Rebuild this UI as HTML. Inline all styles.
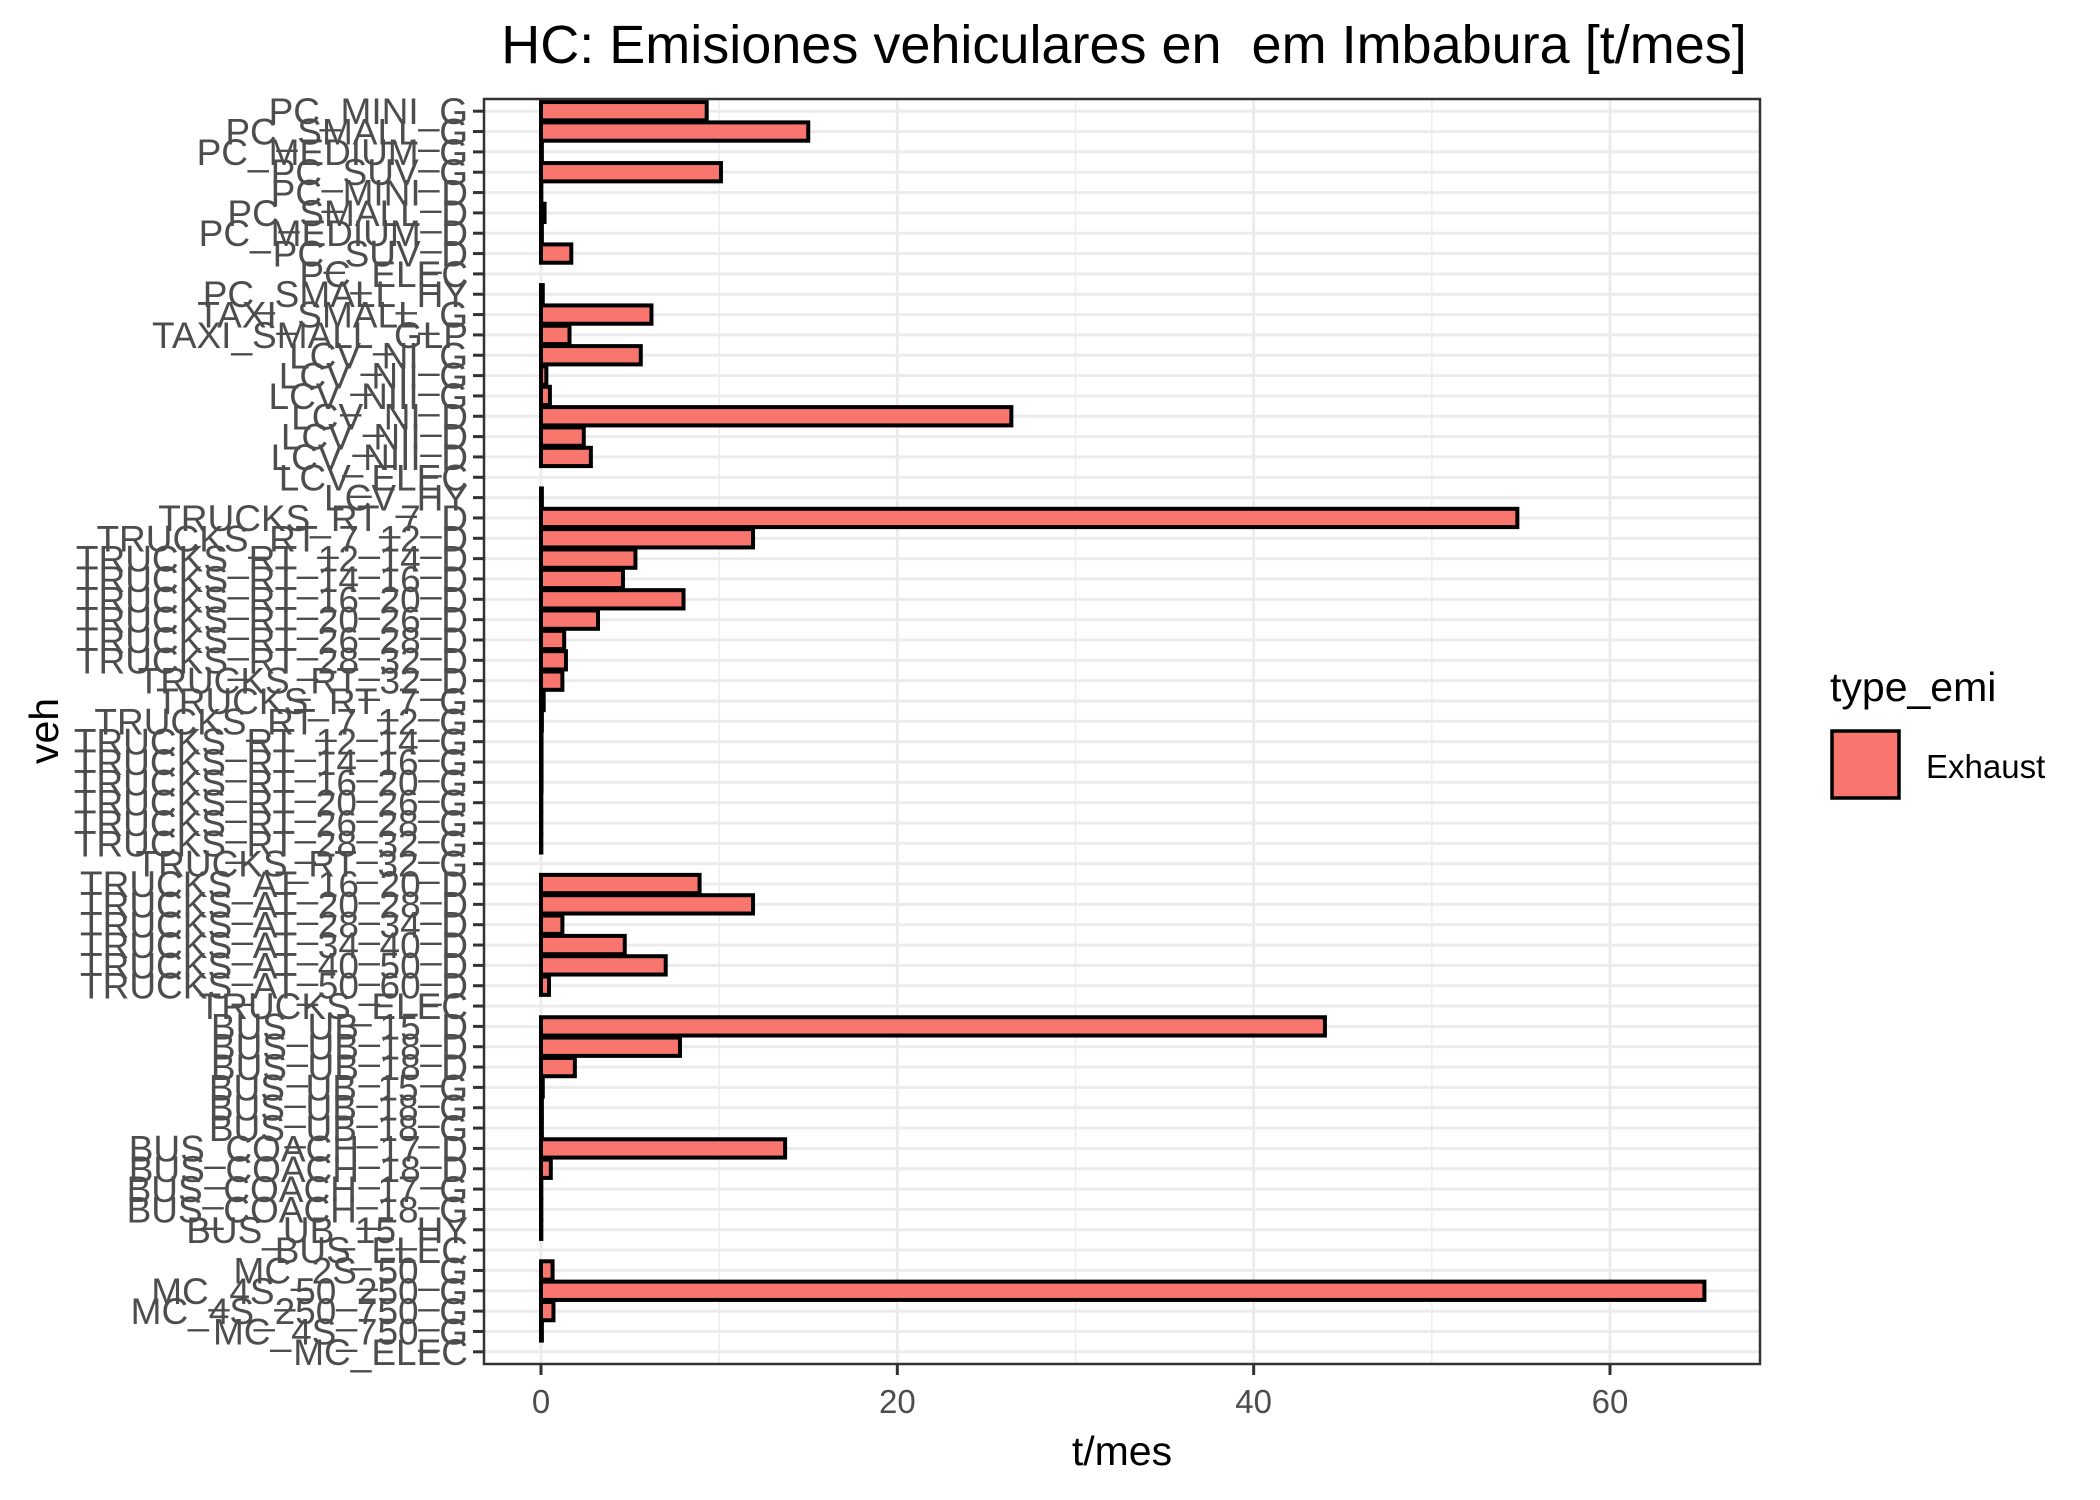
<!DOCTYPE html>
<html><head><meta charset="utf-8"><style>
html,body{margin:0;padding:0;background:#fff;}
svg{display:block;font-family:"Liberation Sans",sans-serif;}
</style></head><body>
<svg id="chart" width="2100" height="1500" viewBox="0 0 2100 1500" xmlns="http://www.w3.org/2000/svg">
<rect width="2100" height="1500" fill="#fff"/>
<text x="1124" y="63" font-size="54" text-anchor="middle" fill="#000" style="white-space:pre" xml:space="preserve">HC: Emisiones vehiculares en  em Imbabura [t/mes]</text>
<g id="panel"></g>
<text x="1122" y="1465" font-size="41" text-anchor="middle" fill="#000">t/mes</text>
<text transform="translate(58,731) rotate(-90)" font-size="41" text-anchor="middle" fill="#000">veh</text>
<g>
<text x="1830" y="701" font-size="41" fill="#000">type_emi</text>
<rect x="1832" y="731" width="67" height="67" fill="#F8766D" stroke="#000" stroke-width="3.5"/>
<text x="1926" y="778" font-size="33" fill="#000">Exhaust</text>
</g>
</svg>
<script>
const categories = ["PC_MINI_G","PC_SMALL_G","PC_MEDIUM_G","PC_SUV_G","PC_MINI_D","PC_SMALL_D","PC_MEDIUM_D","PC_SUV_D","PC_ELEC","PC_SMALL_HY","TAXI_SMALL_G","TAXI_SMALL_GLP","LCV_NI_G","LCV_NII_G","LCV_NIII_G","LCV_NI_D","LCV_NII_D","LCV_NIII_D","LCV_ELEC","LCV_HY","TRUCKS_RT_7_D","TRUCKS_RT_7_12_D","TRUCKS_RT_12_14_D","TRUCKS_RT_14_16_D","TRUCKS_RT_16_20_D","TRUCKS_RT_20_26_D","TRUCKS_RT_26_28_D","TRUCKS_RT_28_32_D","TRUCKS_RT_32_D","TRUCKS_RT_7_G","TRUCKS_RT_7_12_G","TRUCKS_RT_12_14_G","TRUCKS_RT_14_16_G","TRUCKS_RT_16_20_G","TRUCKS_RT_20_26_G","TRUCKS_RT_26_28_G","TRUCKS_RT_28_32_G","TRUCKS_RT_32_G","TRUCKS_AT_16_20_D","TRUCKS_AT_20_28_D","TRUCKS_AT_28_34_D","TRUCKS_AT_34_40_D","TRUCKS_AT_40_50_D","TRUCKS_AT_50_60_D","TRUCKS_ELEC","BUS_UB_15_D","BUS_UB_18_D","BUS_UB_18_D","BUS_UB_15_G","BUS_UB_18_G","BUS_UB_18_G","BUS_COACH_17_D","BUS_COACH_18_D","BUS_COACH_17_G","BUS_COACH_18_G","BUS_UB_15_HY","BUS_ELEC","MC_2S_50_G","MC_4S_50_250_G","MC_4S_250_750_G","MC_4S_750_G","MC_ELEC"];
const exhaustValues = [9.3,15.0,0.05,10.1,0.02,0.2,0.05,1.7,null,0.1,6.2,1.6,5.6,0.3,0.5,26.4,2.4,2.8,null,0.05,54.8,11.9,5.3,4.6,8.0,3.2,1.3,1.4,1.2,0.15,0.05,0.03,0.03,0.03,0.02,0.02,0.02,null,8.9,11.9,1.2,4.7,7.0,0.45,null,44.0,7.8,1.9,0.1,0.05,0.05,13.7,0.55,0.02,0.02,0.02,null,0.65,65.3,0.7,0.05,null];
const xTicks = [0,20,40,60];
const xMinor = [10,30,50];

const NS = "http://www.w3.org/2000/svg";
const P = {l:484, r:1760, t:99, b:1364};
const x0px = 541, unit = (1610-541)/60;
function xs(v){ return x0px + v*unit; }
const n = categories.length;
const band = (P.b-P.t)/(n-1+1.2);
function ys(i){ return P.t + (0.6+i)*band; }
function mk(tag, attrs, parent){ const e=document.createElementNS(NS,tag); for(const k in attrs) e.setAttribute(k,attrs[k]); parent.appendChild(e); return e; }
const svg = document.getElementById('chart');
const panel = document.getElementById('panel');
mk('rect',{x:P.l,y:P.t,width:P.r-P.l,height:P.b-P.t,fill:'#fff'},panel);
xMinor.forEach(v=>{ const l=mk('line',{x1:xs(v),x2:xs(v),y1:P.t,y2:P.b,stroke:'#ebebeb','stroke-width':1.4},panel);

 });
xTicks.forEach(v=>{ const l=mk('line',{x1:xs(v),x2:xs(v),y1:P.t,y2:P.b,stroke:'#ebebeb','stroke-width':2.9},panel);

 });
categories.forEach((c,i)=>{ const l=mk('line',{x1:P.l,x2:P.r,y1:ys(i),y2:ys(i),stroke:'#ebebeb','stroke-width':2.9},panel);

 });
const bh = band*0.9;
exhaustValues.forEach((v,i)=>{ if(v===null) return;
 const r=mk('rect',{x:xs(0),y:ys(i)-bh/2,width:Math.max(0,xs(v)-xs(0)),height:bh,fill:'#F8766D',stroke:'#000','stroke-width':4},panel);
 
  });
const border = mk('rect',{x:P.l,y:P.t,width:P.r-P.l,height:P.b-P.t,fill:'none',stroke:'#333','stroke-width':2.5},panel);


categories.forEach((c,i)=>{
 const tk=mk('line',{x1:P.l-11,x2:P.l,y1:ys(i),y2:ys(i),stroke:'#333','stroke-width':3},svg);
 
 
 const t=mk('text',{x:P.l-16,y:ys(i)+13,'font-size':37,'text-anchor':'end',fill:'#4d4d4d'},svg);
 t.textContent=c;
 
 
});
xTicks.forEach(v=>{
 const tk=mk('line',{x1:xs(v),x2:xs(v),y1:P.b,y2:P.b+11,stroke:'#333','stroke-width':3},svg);
 
 
 const t=mk('text',{x:xs(v),y:1413,'font-size':33,'text-anchor':'middle',fill:'#4d4d4d'},svg);
 t.textContent=String(v);
 
 
});
</script>
</body></html>
